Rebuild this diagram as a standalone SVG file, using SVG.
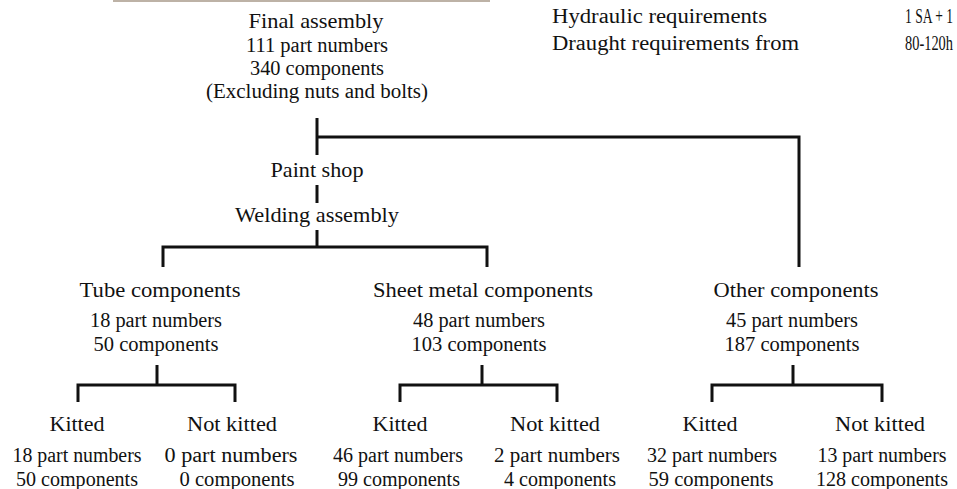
<svg xmlns="http://www.w3.org/2000/svg" width="957" height="489" viewBox="0 0 957 489">
<style>
text{font-family:"Liberation Serif","Times New Roman",serif;fill:#111;}
.h{font-size:21px;text-anchor:middle;}
.d{font-size:20px;text-anchor:middle;}
.t{font-size:20px;}
.conn path{fill:none;stroke:#111;stroke-width:3;stroke-linecap:butt;stroke-linejoin:miter;}
</style>
<rect x="113" y="0" width="377" height="2" fill="#bdb2a6"/>
<g id="spec">
<text class="t" x="552" y="23" textLength="215" lengthAdjust="spacingAndGlyphs">Hydraulic requirements</text>
<text class="t" x="552" y="50" textLength="247" lengthAdjust="spacingAndGlyphs">Draught requirements from</text>
<text class="t" x="905" y="23" textLength="48" lengthAdjust="spacingAndGlyphs">1 SA + 1</text>
<text class="t" x="905" y="50" textLength="48" lengthAdjust="spacingAndGlyphs">80-120h</text>
</g>
<g class="conn">
<path d="M317,118 V155"/>
<path d="M317,137 H799 V267"/>
<path d="M317,185 V203"/>
<path d="M317,230 V247"/>
<path d="M163,267 V247 H487 V267"/>
<path d="M157,365 V385"/>
<path d="M78,402 V385 H235 V402"/>
<path d="M482,365 V385"/>
<path d="M400,402 V385 H557 V402"/>
<path d="M793,365 V385"/>
<path d="M712,402 V385 H882 V402"/>
</g>
<g id="final">
<text class="h" x="316" y="28" textLength="135" lengthAdjust="spacingAndGlyphs">Final assembly</text>
<text class="d" x="317" y="52" textLength="142" lengthAdjust="spacingAndGlyphs">111 part numbers</text>
<text class="d" x="317" y="75" textLength="134" lengthAdjust="spacingAndGlyphs">340 components</text>
<text class="d" x="317" y="98" textLength="222" lengthAdjust="spacingAndGlyphs">(Excluding nuts and bolts)</text>
</g>
<g id="paint">
<text class="h" x="317" y="177" textLength="93" lengthAdjust="spacingAndGlyphs">Paint shop</text>
</g>
<g id="welding">
<text class="h" x="317" y="222" textLength="164" lengthAdjust="spacingAndGlyphs">Welding assembly</text>
</g>
<g id="tube">
<text class="h" x="160" y="297" textLength="161" lengthAdjust="spacingAndGlyphs">Tube components</text>
<text class="d" x="156" y="327" textLength="132" lengthAdjust="spacingAndGlyphs">18 part numbers</text>
<text class="d" x="156" y="351" textLength="125" lengthAdjust="spacingAndGlyphs">50 components</text>
</g>
<g id="sheet">
<text class="h" x="483" y="297" textLength="220" lengthAdjust="spacingAndGlyphs">Sheet metal components</text>
<text class="d" x="479" y="327" textLength="132" lengthAdjust="spacingAndGlyphs">48 part numbers</text>
<text class="d" x="479" y="351" textLength="135" lengthAdjust="spacingAndGlyphs">103 components</text>
</g>
<g id="other">
<text class="h" x="796" y="297" textLength="165" lengthAdjust="spacingAndGlyphs">Other components</text>
<text class="d" x="792" y="327" textLength="132" lengthAdjust="spacingAndGlyphs">45 part numbers</text>
<text class="d" x="792" y="351" textLength="135" lengthAdjust="spacingAndGlyphs">187 components</text>
</g>
<g id="tube-kitted">
<text class="h" x="77" y="431" textLength="55" lengthAdjust="spacingAndGlyphs">Kitted</text>
<text class="d" x="77" y="462" textLength="129" lengthAdjust="spacingAndGlyphs">18 part numbers</text>
<text class="d" x="77" y="486" textLength="122" lengthAdjust="spacingAndGlyphs">50 components</text>
</g>
<g id="tube-notkitted">
<text class="h" x="232" y="431" textLength="90" lengthAdjust="spacingAndGlyphs">Not kitted</text>
<text class="d" x="231" y="462" textLength="133" lengthAdjust="spacingAndGlyphs">0 part numbers</text>
<text class="d" x="237" y="486" textLength="115" lengthAdjust="spacingAndGlyphs">0 components</text>
</g>
<g id="sheet-kitted">
<text class="h" x="400" y="431" textLength="55" lengthAdjust="spacingAndGlyphs">Kitted</text>
<text class="d" x="398" y="462" textLength="130" lengthAdjust="spacingAndGlyphs">46 part numbers</text>
<text class="d" x="399" y="486" textLength="122" lengthAdjust="spacingAndGlyphs">99 components</text>
</g>
<g id="sheet-notkitted">
<text class="h" x="555" y="431" textLength="90" lengthAdjust="spacingAndGlyphs">Not kitted</text>
<text class="d" x="557" y="462" textLength="126" lengthAdjust="spacingAndGlyphs">2 part numbers</text>
<text class="d" x="560" y="486" textLength="112" lengthAdjust="spacingAndGlyphs">4 components</text>
</g>
<g id="other-kitted">
<text class="h" x="710" y="431" textLength="55" lengthAdjust="spacingAndGlyphs">Kitted</text>
<text class="d" x="712" y="462" textLength="130" lengthAdjust="spacingAndGlyphs">32 part numbers</text>
<text class="d" x="711" y="486" textLength="125" lengthAdjust="spacingAndGlyphs">59 components</text>
</g>
<g id="other-notkitted">
<text class="h" x="880" y="431" textLength="90" lengthAdjust="spacingAndGlyphs">Not kitted</text>
<text class="d" x="882" y="462" textLength="129" lengthAdjust="spacingAndGlyphs">13 part numbers</text>
<text class="d" x="882" y="486" textLength="132" lengthAdjust="spacingAndGlyphs">128 components</text>
</g>
</svg>
